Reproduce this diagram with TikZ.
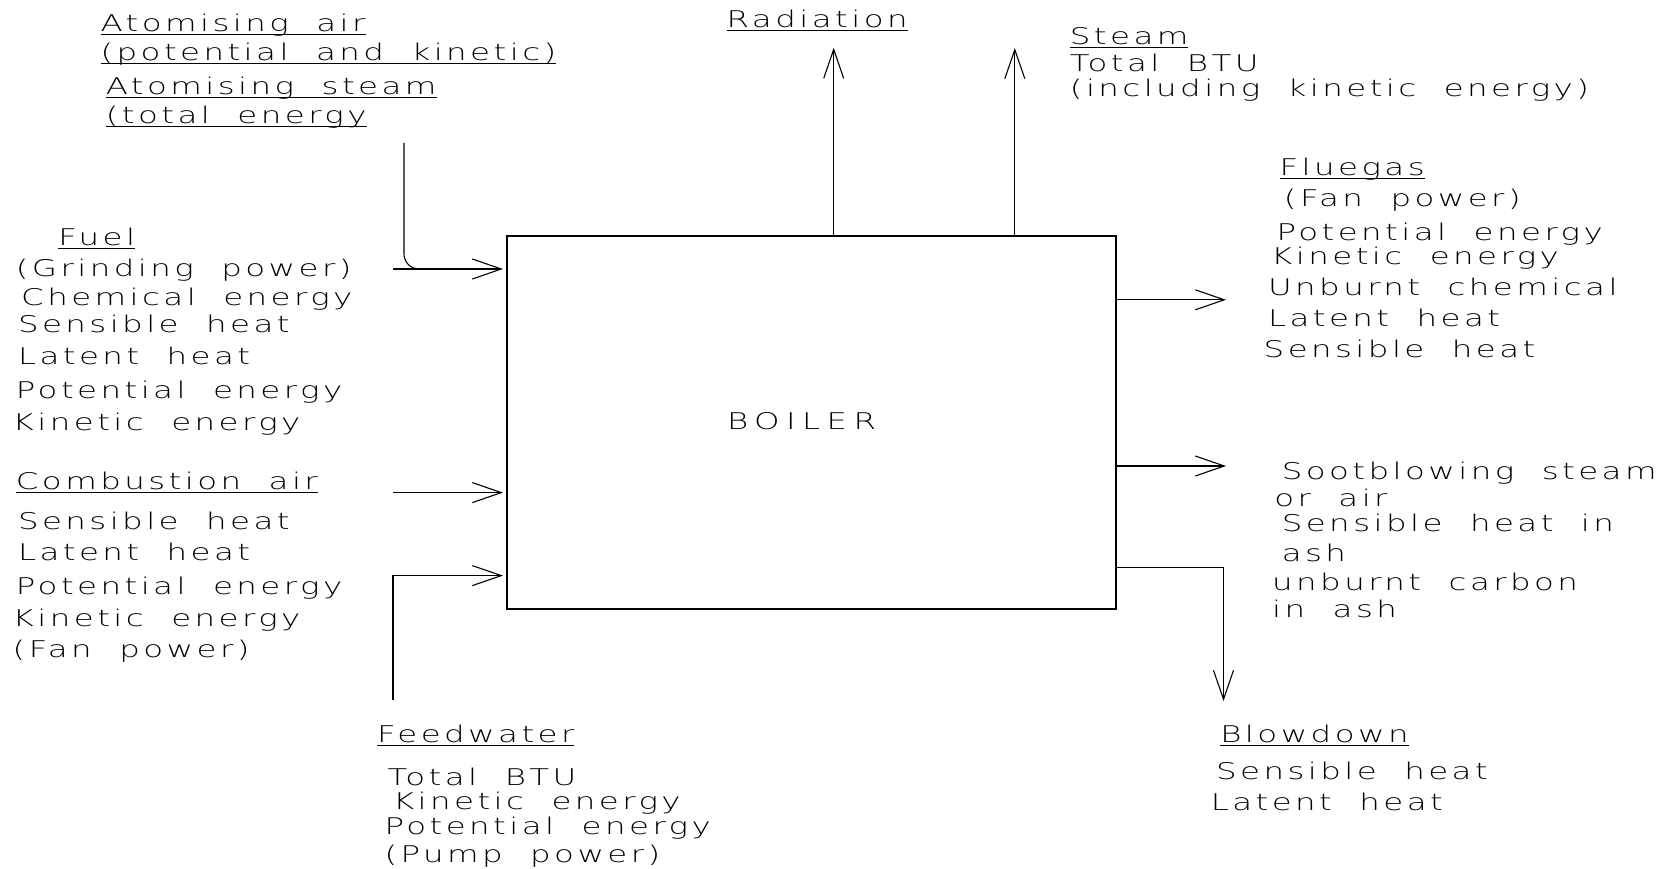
\documentclass[tikz,border=0pt]{standalone}
\usepackage{fontspec}
\usetikzlibrary{arrows.meta}
\IfFontExistsTF{DejaVu Sans ExtraLight}
  {\newfontfamily\cad[LetterSpace=15,FakeStretch=1.41,WordSpace=2]{DejaVu Sans ExtraLight}}
  {\newfontfamily\cad[LetterSpace=15,FakeStretch=1.41,WordSpace=2]{DejaVu Sans}}
\tikzset{
  lbl/.style={anchor=base west, inner sep=0pt, outer sep=0pt, font=\cad\fontsize{23}{28}\selectfont},
  uline/.style={line width=1pt},
  flow/.style={line width=1.1pt, -{Straight Barb[length=29pt,width=20pt,line width=1.1pt]}},
  plain/.style={line width=1.1pt}
}
\begin{document}
\begin{tikzpicture}[x=1pt,y=-1pt]
\useasboundingbox (0,0) rectangle (1661,869);
% boiler box
\node[draw, line width=1.1pt, minimum width=609pt, minimum height=373pt, inner sep=0pt, outer sep=0pt] (boiler) at (811.5,422.5) {};
\node[lbl, anchor=base west, font=\cad\fontsize{23}{28}\selectfont\addfontfeature{LetterSpace=28}] (boilertxt) at (727,429.5) {BOILER};
% labels
\node[lbl] (a1) at (100.6,31.8) {Atomising air};
\node[lbl] (a2) at (100.6,60.4) {(potential and kinetic)};
\node[lbl] (a3) at (105.9,94.3) {Atomising steam};
\node[lbl] (a4) at (105.9,123.9) {(total energy};
\node[lbl] (rad) at (726.7,27.5) {Radiation};
\node[lbl] (s1) at (1069.9,44.5) {Steam};
\node[lbl] (s2) at (1069.9,72) {Total BTU};
\node[lbl] (s3) at (1069.9,96.4) {(including kinetic energy)};
\node[lbl] (f1) at (1279.6,175.8) {Fluegas};
\node[lbl] (f2) at (1283.9,206.6) {(Fan power)};
\node[lbl] (f3) at (1276.5,240.5) {Potential energy};
\node[lbl] (f4) at (1271.2,264.8) {Kinetic energy};
\node[lbl] (f5) at (1268,295.5) {Unburnt chemical};
\node[lbl] (f6) at (1268,326.3) {Latent heat};
\node[lbl] (f7) at (1263.7,357) {Sensible heat};
\node[lbl] (u1) at (58.3,245.8) {Fuel};
\node[lbl] (u2) at (15.9,276.5) {(Grinding power)};
\node[lbl] (u3) at (21.2,305) {Chemical energy};
\node[lbl] (u4) at (18,332.6) {Sensible heat};
\node[lbl] (u5) at (18,364.4) {Latent heat};
\node[lbl] (u6) at (15.9,398.3) {Potential energy};
\node[lbl] (u7) at (12.7,430) {Kinetic energy};
\node[lbl] (c1) at (15.9,489.4) {Combustion air};
\node[lbl] (c2) at (18,529.7) {Sensible heat};
\node[lbl] (c3) at (18,560.4) {Latent heat};
\node[lbl] (c4) at (15.9,594.3) {Potential energy};
\node[lbl] (c5) at (12.7,626) {Kinetic energy};
\node[lbl] (c6) at (12.7,657.8) {(Fan power)};
\node[lbl] (b1) at (1281.8,479.9) {Sootblowing steam};
\node[lbl] (b2) at (1274.3,506.3) {or air};
\node[lbl] (b3) at (1281.8,531.8) {Sensible heat in};
\node[lbl] (b4) at (1281.8,561.4) {ash};
\node[lbl] (b5) at (1272.2,590) {unburnt carbon};
\node[lbl] (b6) at (1272.2,617.6) {in ash};
\node[lbl] (w1) at (377.1,742.6) {Feedwater};
\node[lbl] (w2) at (387.7,785) {Total BTU};
\node[lbl] (w3) at (393,809.3) {Kinetic energy};
\node[lbl] (w4) at (384.5,834.7) {Potential energy};
\node[lbl] (w5) at (384.5,862.3) {(Pump power)};
\node[lbl] (d1) at (1220.3,742.6) {Blowdown};
\node[lbl] (d2) at (1216.1,779.6) {Sensible heat};
\node[lbl] (d3) at (1210.8,810.4) {Latent heat};
% underlines
\foreach \n in {a1,a2,a3,a4,rad,s1,f1,u1,c1,w1,d1}
  \draw[uline] ([yshift=-3pt]\n.base west) -- ([yshift=-3pt]\n.base east);
% connector end points
\coordinate (atS) at (404,143);
\coordinate (atJ) at (440,269);
\coordinate (fuS) at (393,269);
\coordinate (caS) at (393,492.6);
\coordinate (fwS) at (393,700);
\coordinate (fwT) at (507,575.6);
\coordinate (radE) at (833.7,47.7);
\coordinate (stE) at (1014.8,48);
\coordinate (fgE) at (1226,299.8);
\coordinate (sbE) at (1226,466);
\coordinate (bdS) at (1116,567.8);
\coordinate (bdE) at (1223.5,701);
% connectors
\draw[plain, rounded corners=15pt] (atS) |- (atJ);
\draw[flow, shorten >=4pt] (fuS) -- (fuS -| boiler.west);
\draw[flow, shorten >=4pt] (caS) -- (caS -| boiler.west);
\draw[flow, shorten >=4pt] (fwS) |- (boiler.west |- fwT);
\draw[flow] (radE |- boiler.north) -- (radE);
\draw[flow] (stE |- boiler.north) -- (stE);
\draw[flow] (boiler.east |- fgE) -- (fgE);
\draw[flow] (boiler.east |- sbE) -- (sbE);
\draw[flow] (boiler.east |- bdS) -| (bdE);
\end{tikzpicture}
\end{document}
